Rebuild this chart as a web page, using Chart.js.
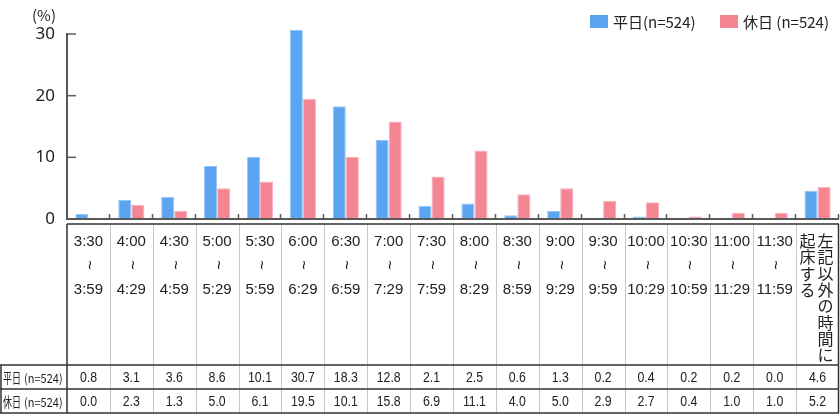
<!DOCTYPE html>
<html>
<head>
<meta charset="utf-8">
<script src="https://cdn.jsdelivr.net/npm/chart.js@4.4.1/dist/chart.umd.min.js"></script>
<style>
  html, body { margin: 0; padding: 0; background: #fff; }
</style>
</head>
<body>
<canvas id="chart" width="840" height="415"></canvas>
<script>
const timeFrom = ['3:30', '4:00', '4:30', '5:00', '5:30', '6:00', '6:30', '7:00', '7:30',
  '8:00', '8:30', '9:00', '9:30', '10:00', '10:30', '11:00', '11:30'];
const timeTo = ['3:59', '4:29', '4:59', '5:29', '5:59', '6:29', '6:59', '7:29', '7:59',
  '8:29', '8:59', '9:29', '9:59', '10:29', '10:59', '11:29', '11:59'];
const otherLabel = ['左記以外の時間に', '起床する'];
const categories = timeFrom.map((t, i) => t + '~' + timeTo[i]).concat([otherLabel.join('')]);

const seriesNames = ['平日', '休日'];
const sampleSize = 524;
const weekday = [0.8, 3.1, 3.6, 8.6, 10.1, 30.7, 18.3, 12.8, 2.1, 2.5, 0.6, 1.3, 0.2, 0.4, 0.2, 0.2, 0.0, 4.6];
const holiday = [0.0, 2.3, 1.3, 5.0, 6.1, 19.5, 10.1, 15.8, 6.9, 11.1, 4.0, 5.0, 2.9, 2.7, 0.4, 1.0, 1.0, 5.2];
const yTicks = [0, 10, 20, 30];

const blue = 'rgb(91, 165, 240)';
const pink = 'rgb(244, 133, 147)';
const axisColor = '#595959';
const textColor = '#222';

Chart.defaults.font.family = "'Noto Sans', 'Noto Sans CJK JP', sans-serif";

// table geometry (below the plot)
const tableTop = 224;
const labelBottom = 365;
const row1Bottom = 389;
const row2Bottom = 413;

function scaledText(ctx, text, x, y, sx) {
  ctx.save();
  ctx.translate(x, y);
  ctx.scale(sx, 1);
  ctx.fillText(text, 0, 0);
  ctx.restore();
}

const tablePlugin = {
  id: 'tablePlugin',
  afterDatasetsDraw(chart) {
    const { ctx, chartArea: a, scales: { x, y } } = chart;
    const n = categories.length;
    const w = (a.right - a.left) / n;
    const y0 = y.getPixelForValue(0);
    ctx.save();

    // x axis line and inner ticks
    ctx.strokeStyle = axisColor;
    ctx.lineWidth = 2;
    ctx.beginPath();
    ctx.moveTo(a.left - 1, y0);
    ctx.lineTo(a.right, y0);
    ctx.stroke();
    ctx.lineWidth = 1.5;
    for (let i = 1; i <= n; i++) {
      const bx = Math.round(a.left + i * w) - 0.5;
      ctx.beginPath();
      ctx.moveTo(bx, y0);
      ctx.lineTo(bx, y0 - 5);
      ctx.stroke();
    }
    yTicks.forEach(v => {
      const py = y.getPixelForValue(v);
      ctx.beginPath();
      ctx.moveTo(a.left, py);
      ctx.lineTo(a.left + 9, py);
      ctx.stroke();
    });

    // (%) unit
    ctx.fillStyle = textColor;
    ctx.font = "15px 'Noto Sans CJK JP'";
    ctx.textAlign = 'center';
    ctx.textBaseline = 'middle';
    ctx.fillText('(%)', 44, 15);

    // legend
    ctx.textAlign = 'left';
    const legendX = [590, 720];
    chart.data.datasets.forEach((ds, i) => {
      ctx.fillStyle = ds.backgroundColor;
      ctx.fillRect(legendX[i], 15, 18, 13);
      ctx.fillStyle = textColor;
      ctx.font = "15px 'Noto Sans CJK JP'";
      ctx.fillText(ds.label, legendX[i] + 23, 22);
    });

    // table lines
    ctx.strokeStyle = '#c8c8c8';
    ctx.lineWidth = 1;
    for (let i = 1; i < n; i++) {
      const bx = Math.round(a.left + i * w) + 0.5;
      ctx.beginPath();
      ctx.moveTo(bx, tableTop);
      ctx.lineTo(bx, row2Bottom);
      ctx.stroke();
    }
    ctx.strokeStyle = '#333';
    ctx.lineWidth = 1.5;
    ctx.beginPath();
    ctx.moveTo(a.left, tableTop); ctx.lineTo(a.right, tableTop);
    ctx.moveTo(a.left, tableTop); ctx.lineTo(a.left, row2Bottom);
    ctx.moveTo(a.right - 0.5, tableTop); ctx.lineTo(a.right - 0.5, row2Bottom);
    [labelBottom, row1Bottom, row2Bottom].forEach(ly => {
      ctx.moveTo(0, ly); ctx.lineTo(a.right, ly);
    });
    ctx.moveTo(1, labelBottom); ctx.lineTo(1, row2Bottom);
    ctx.stroke();

    // category labels
    ctx.fillStyle = textColor;
    ctx.textAlign = 'center';
    ctx.textBaseline = 'middle';
    for (let i = 0; i < timeFrom.length; i++) {
      const cx = x.getPixelForValue(i);
      ctx.font = "15px 'Liberation Sans', Arial, sans-serif";
      ctx.fillText(timeFrom[i], cx, 242);
      ctx.fillText(timeTo[i], cx, 290);
      ctx.save();
      ctx.translate(cx, 265);
      ctx.rotate(Math.PI / 2);
      ctx.font = "16px 'Liberation Sans', Arial, sans-serif";
      ctx.fillText('~', 0, 0);
      ctx.restore();
    }
    const lx = x.getPixelForValue(n - 1);
    ctx.font = "16px 'Noto Sans CJK JP'";
    otherLabel.forEach((col, c) => {
      [...col].forEach((ch, k) => {
        ctx.fillText(ch, lx + 8 - c * 18, 241 + k * 16.3);
      });
    });

    // value rows
    const rows = [weekday, holiday];
    const rowY = [(labelBottom + row1Bottom) / 2 + 1, (row1Bottom + row2Bottom) / 2 + 1];
    rows.forEach((vals, r) => {
      ctx.textAlign = 'left';
      ctx.font = "14px 'Noto Sans CJK JP'";
      scaledText(ctx, seriesNames[r], 3, rowY[r], 0.64);
      ctx.font = "12px 'Noto Sans CJK JP'";
      scaledText(ctx, '(n=' + sampleSize + ')', 24, rowY[r], 0.92);
      ctx.textAlign = 'center';
      ctx.font = "15px 'Liberation Sans', Arial, sans-serif";
      vals.forEach((v, i) => {
        scaledText(ctx, v.toFixed(1), x.getPixelForValue(i), rowY[r], 0.82);
      });
    });

    ctx.restore();
  }
};

const ctx = document.getElementById('chart').getContext('2d');
const data = {
  labels: categories,
  datasets: [{
    label: seriesNames[0] + '(n=' + sampleSize + ')',
    data: weekday,
    backgroundColor: blue,
    borderColor: 'rgb(150, 198, 248)',
    borderWidth: 1,
    clip: false
  }, {
    label: seriesNames[1] + ' (n=' + sampleSize + ')',
    data: holiday,
    backgroundColor: pink,
    borderColor: 'rgb(250, 175, 186)',
    borderWidth: 1,
    clip: false
  }]
};
const config = {
  type: 'bar',
  data: data,
  options: {
    responsive: false,
    animation: false,
    devicePixelRatio: 1,
    categoryPercentage: 0.61,
    barPercentage: 1.0,
    layout: { padding: { top: 34, bottom: 196, left: 0, right: 1 } },
    plugins: {
      legend: { display: false },
      tooltip: { enabled: false }
    },
    scales: {
      x: { display: false },
      y: {
        min: 0,
        max: 30,
        afterFit: scale => { scale.width = 67; },
        ticks: {
          stepSize: 10,
          padding: 12,
          color: textColor,
          font: { size: 17 }
        },
        grid: { display: false, drawTicks: false },
        border: { display: true, color: axisColor, width: 2 }
      }
    }
  },
  plugins: [tablePlugin]
};

const chart = new Chart(ctx, config);
</script>
</body>
</html>
